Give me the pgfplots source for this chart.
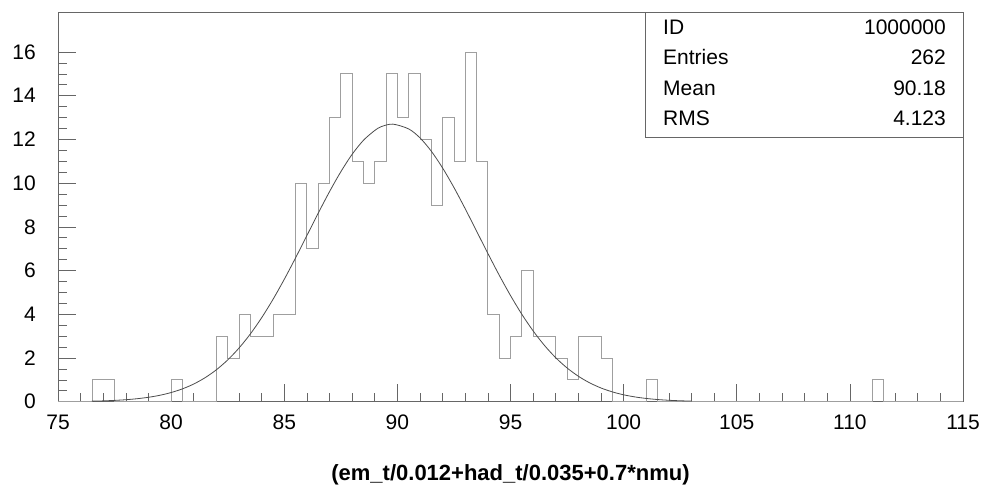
\documentclass[border=0pt]{standalone}
\usepackage{pgfplots}
\pgfplotsset{compat=1.18}
\usepackage{fontspec}
\setmainfont{Liberation Sans}
\begin{document}
\fontsize{21}{25}\selectfont
\begin{tikzpicture}
\begin{axis}[
  width=905pt, height=389pt, scale only axis,
  xmin=75, xmax=115, ymin=0, ymax=17.8,
  xtick={75,80,...,115}, ytick={0,2,...,16},
  minor x tick num=4, minor y tick num=3,
  tick pos=left, tick align=inside,
  major tick length=18pt, minor tick length=9pt,
  every tick/.style={gray!80!black, line width=0.6pt},
  axis line style={gray!80!black, line width=0.8pt},
  /pgf/number format/assume math mode=true,
  ticklabel style={font=\fontsize{21}{25}\selectfont, inner sep=0pt},
  yticklabel shift=22pt,
  xticklabel shift=13pt,
  xlabel={\textbf{(em\_t/0.012+had\_t/0.035+0.7*nmu)}},
  xlabel style={at={(axis description cs:0.5,-0.189)}, anchor=center, font=\fontsize{22}{26}\selectfont},
  clip=false,
]
\addplot[const plot, gray!75, line width=0.8pt, mark=none] coordinates {
(75,0) (76.5,1) (77,1) (77.5,0) (80,1) (80.5,0) (82,3) (82.5,2) (83,4) (83.5,3) (84,3) (84.5,4) (85,4) (85.5,10) (86,7) (86.5,10) (87,13) (87.5,15) (88,11) (88.5,10) (89,11) (89.5,15) (90,13) (90.5,15) (91,12) (91.5,9) (92,13) (92.5,11) (93,16) (93.5,11) (94,4) (94.5,2) (95,3) (95.5,6) (96,3) (96.5,3) (97,2) (97.5,1) (98,3) (98.5,3) (99,2) (99.5,0) (101,1) (101.5,0) (111,1) (111.5,0) (115,0)
};
\addplot[smooth, black!70, line width=0.8pt, mark=none] coordinates {
(76.5,0.024) (77,0.037) (77.5,0.059) (78,0.090) (78.5,0.136) (79,0.201) (79.5,0.292) (80,0.418) (80.5,0.586) (81,0.809) (81.5,1.097) (82,1.460) (82.5,1.910) (83,2.454) (83.5,3.097) (84,3.841) (84.5,4.678) (85,5.598) (85.5,6.581) (86,7.601) (86.5,8.623) (87,9.610) (87.5,10.52) (88,11.32) (88.5,11.96) (89,12.41) (89.3,12.59) (89.8,12.70) (90.5,12.48) (91,12.07) (91.5,11.46) (92,10.69) (92.5,9.800) (93,8.824) (93.5,7.805) (94,6.783) (94.5,5.790) (95,4.857) (95.5,4.000) (96,3.238) (96.5,2.575) (97,2.010) (97.5,1.543) (98,1.163) (98.5,0.861) (99,0.626) (99.5,0.448) (100,0.314) (100.5,0.217) (101,0.147) (101.5,0.098) (102,0.064) (102.5,0.041) (103,0.026)
};
\draw[gray!80!black, line width=0.8pt, fill=white] (axis cs:100.94,12.07) rectangle (axis cs:115,17.8);
\node[anchor=base west, inner sep=0pt] at (axis cs:101.74,16.8) {ID};
\node[anchor=base west, inner sep=0pt] at (axis cs:101.74,15.41) {Entries};
\node[anchor=base west, inner sep=0pt] at (axis cs:101.74,14.03) {Mean};
\node[anchor=base west, inner sep=0pt] at (axis cs:101.74,12.65) {RMS};
\node[anchor=base east, inner sep=0pt] at (axis cs:114.25,16.8) {1000000};
\node[anchor=base east, inner sep=0pt] at (axis cs:114.25,15.41) {262};
\node[anchor=base east, inner sep=0pt] at (axis cs:114.25,14.03) {90.18};
\node[anchor=base east, inner sep=0pt] at (axis cs:114.25,12.65) {4.123};
\path (rel axis cs:-0.0641,-0.2237) rectangle (rel axis cs:1.021,1.0326);
\end{axis}
\end{tikzpicture}
\end{document}
